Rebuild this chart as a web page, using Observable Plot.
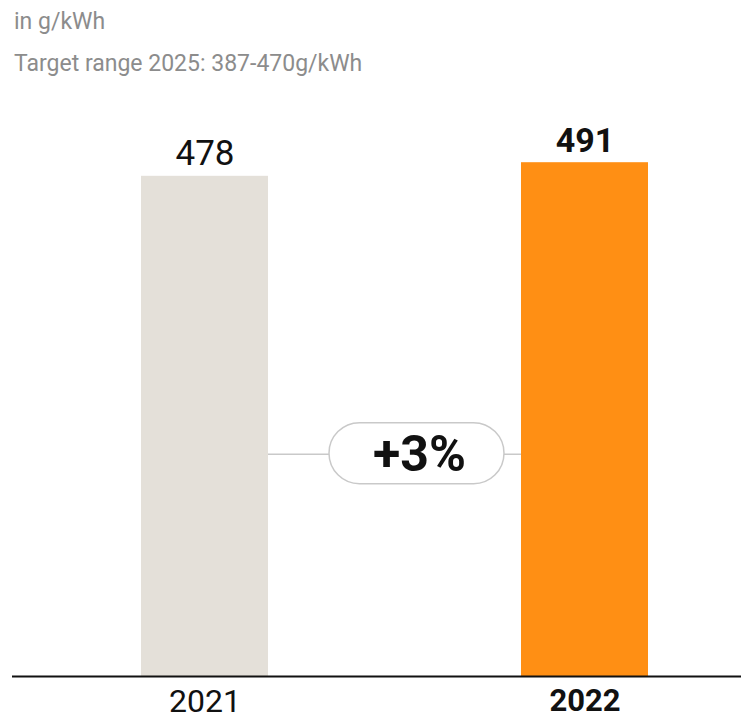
<!DOCTYPE html>
<html>
<head>
<meta charset="utf-8">
<script src="https://cdn.jsdelivr.net/npm/d3@7"></script>
<script src="https://cdn.jsdelivr.net/npm/@observablehq/plot@0.6"></script>
<style>
  html, body { margin: 0; padding: 0; background: #fff; }
  body { width: 755px; height: 719px; overflow: hidden; font-family: Roboto, "Noto Sans", sans-serif; }
  #head { height: 90px; padding: 1px 0 0 14px; box-sizing: border-box; color: #8c8c8c; font-size: 23px; line-height: 42px; }
  #chart svg { display: block; }
</style>
</head>
<body>
<div id="head">
  <div>in g/kWh</div>
  <div>Target range 2025: 387-470g/kWh</div>
</div>
<div id="chart"></div>
<script>
const years = ["2021", "2022"];
const values = [478, 491];
const barColors = ["#e4e0d9", "#ff8f14"];
const fontWeights = ["normal", "bold"];
const changeLabel = "+3%";
const connectorValue = 212;

const data = years.map((year, i) => ({year, value: values[i], color: barColors[i], weight: fontWeights[i]}));

const plot = Plot.plot({
  width: 755,
  height: 629,
  marginTop: 0,
  marginBottom: 43,
  marginLeft: 12,
  marginRight: 14,
  style: {fontFamily: "Roboto, sans-serif", background: "#fff"},
  x: {domain: years, range: [140, 648], paddingInner: 2 / 3, paddingOuter: 0, axis: null},
  y: {domain: [0, 560], axis: null},
  marks: [
    Plot.barY(data, {x: "year", y: "value", fill: "color"}),
    Plot.ruleY([0], {stroke: "#111", strokeWidth: 2}),
    Plot.text(data.filter(d => d.weight === "normal"), {x: "year", y: "value", text: d => String(d.value), dy: -23, fontSize: 35, fill: "#111", fontWeight: "normal", lineAnchor: "middle"}),
    Plot.text(data.filter(d => d.weight === "bold"), {x: "year", y: "value", text: d => String(d.value), dy: -22, fontSize: 34, fill: "#111", fontWeight: "bold", lineAnchor: "middle"}),
    Plot.text(data.filter(d => d.weight === "normal"), {x: "year", y: 0, text: "year", dy: 25, fontSize: 32, fill: "#111", fontWeight: "normal", lineAnchor: "middle"}),
    Plot.text(data.filter(d => d.weight === "bold"), {x: "year", y: 0, text: "year", dy: 25, fontSize: 31, fill: "#111", fontWeight: "bold", lineAnchor: "middle"})
  ]
});

// connector with pill, positioned through the plot's own scales
const xs = plot.scale("x");
const ys = plot.scale("y");
const bw = xs.bandwidth;
const xLeft = xs.apply(years[0]) + bw;
const xRight = xs.apply(years[1]);
const yc = ys.apply(connectorValue);
const pillW = 175, pillH = 61;
const pillCx = (xLeft + xRight) / 2 + 22;
const svg = d3.select(plot);
const g = svg.append("g");
g.append("line").attr("x1", xLeft).attr("x2", xRight).attr("y1", yc).attr("y2", yc)
  .attr("stroke", "#c9c9c9").attr("stroke-width", 1.5);
g.append("rect").attr("x", pillCx - pillW / 2).attr("y", yc - pillH / 2 - 1)
  .attr("width", pillW).attr("height", pillH).attr("rx", pillH / 2).attr("ry", pillH / 2)
  .attr("fill", "#fff").attr("stroke", "#c9c9c9").attr("stroke-width", 1.5);
g.append("text").attr("x", pillCx + 3).attr("y", yc - 1).attr("dy", "0.36em")
  .attr("text-anchor", "middle").attr("font-size", 50).attr("font-weight", "bold")
  .attr("font-family", "Roboto, sans-serif").attr("fill", "#111").text(changeLabel);

document.getElementById("chart").appendChild(plot);
</script>
</body>
</html>
